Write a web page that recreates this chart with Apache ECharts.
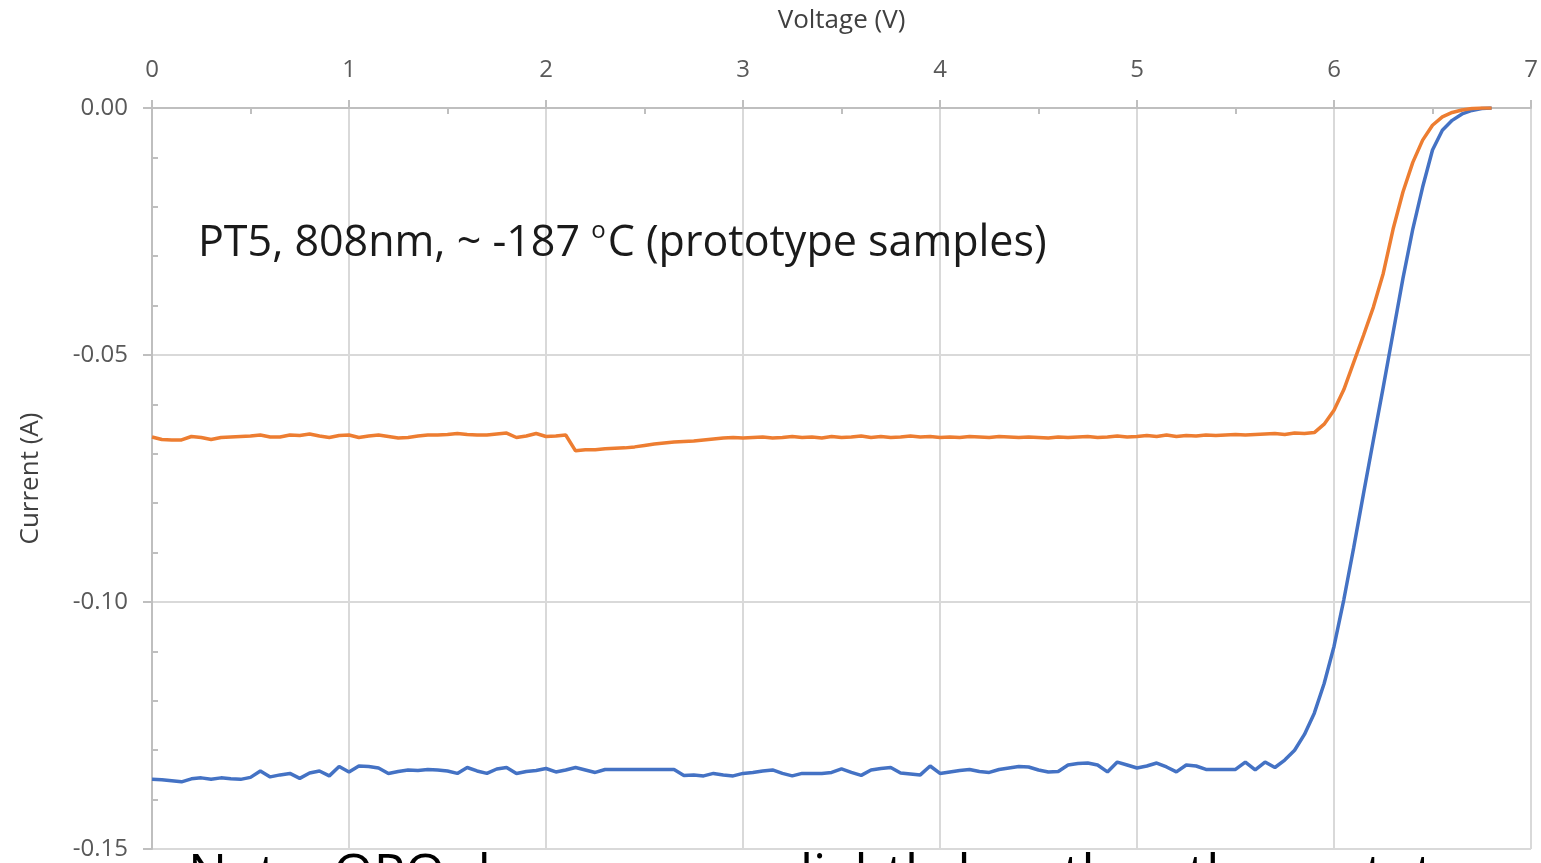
<!DOCTYPE html>
<html>
<head>
<meta charset="utf-8">
<script src="https://cdn.jsdelivr.net/npm/echarts@6/dist/echarts.min.js"></script>
<style>
    html, body { margin: 0; padding: 0; background: #fff; }
    #chart { width: 1541px; height: 863px; }
</style>
</head>
<body>
<div id="chart"></div>
<script>
// 电压 (V)
var voltage = [
    0.00, 0.05, 0.10, 0.15, 0.20, 0.25, 0.30, 0.35, 0.40, 0.45,
    0.50, 0.55, 0.60, 0.65, 0.70, 0.75, 0.80, 0.85, 0.90, 0.95,
    1.00, 1.05, 1.10, 1.15, 1.20, 1.25, 1.30, 1.35, 1.40, 1.45,
    1.50, 1.55, 1.60, 1.65, 1.70, 1.75, 1.80, 1.85, 1.90, 1.95,
    2.00, 2.05, 2.10, 2.15, 2.20, 2.25, 2.30, 2.35, 2.40, 2.45,
    2.50, 2.55, 2.60, 2.65, 2.70, 2.75, 2.80, 2.85, 2.90, 2.95,
    3.00, 3.05, 3.10, 3.15, 3.20, 3.25, 3.30, 3.35, 3.40, 3.45,
    3.50, 3.55, 3.60, 3.65, 3.70, 3.75, 3.80, 3.85, 3.90, 3.95,
    4.00, 4.05, 4.10, 4.15, 4.20, 4.25, 4.30, 4.35, 4.40, 4.45,
    4.50, 4.55, 4.60, 4.65, 4.70, 4.75, 4.80, 4.85, 4.90, 4.95,
    5.00, 5.05, 5.10, 5.15, 5.20, 5.25, 5.30, 5.35, 5.40, 5.45,
    5.50, 5.55, 5.60, 5.65, 5.70, 5.75, 5.80, 5.85, 5.90, 5.95,
    6.00, 6.05, 6.10, 6.15, 6.20, 6.25, 6.30, 6.35, 6.40, 6.45,
    6.50, 6.55, 6.60, 6.65, 6.70, 6.75, 6.80
];

// 蓝线 电流 (A)
var currentBlue = [
    -0.1359, -0.1360, -0.1362, -0.1364, -0.1358, -0.1356, -0.1359, -0.1356, -0.1358, -0.1359,
    -0.1355, -0.1342, -0.1354, -0.1350, -0.1347, -0.1357, -0.1346, -0.1342, -0.1352, -0.1333,
    -0.1344, -0.1332, -0.1333, -0.1336, -0.1347, -0.1343, -0.1340, -0.1341, -0.1339, -0.1340,
    -0.1342, -0.1347, -0.1335, -0.1342, -0.1347, -0.1338, -0.1335, -0.1347, -0.1343, -0.1341,
    -0.1337, -0.1344, -0.1340, -0.1335, -0.1340, -0.1345, -0.1339, -0.1339, -0.1339, -0.1339,
    -0.1339, -0.1339, -0.1339, -0.1339, -0.1351, -0.1350, -0.1352, -0.1347, -0.1350, -0.1352,
    -0.1347, -0.1345, -0.1342, -0.1340, -0.1347, -0.1352, -0.1347, -0.1347, -0.1347, -0.1345,
    -0.1338, -0.1345, -0.1351, -0.1340, -0.1337, -0.1335, -0.1346, -0.1348, -0.1350, -0.1332,
    -0.1347, -0.1344, -0.1341, -0.1339, -0.1343, -0.1345, -0.1339, -0.1336, -0.1333, -0.1334,
    -0.1340, -0.1344, -0.1343, -0.1330, -0.1327, -0.1326, -0.1330, -0.1344, -0.1324, -0.1330,
    -0.1336, -0.1332, -0.1326, -0.1334, -0.1344, -0.1330, -0.1332, -0.1339, -0.1339, -0.1339,
    -0.1339, -0.1324, -0.1340, -0.1324, -0.1335, -0.1320, -0.1300, -0.1268, -0.1225, -0.1165,
    -0.1090, -0.0995, -0.0890, -0.0780, -0.0672, -0.0565, -0.0455, -0.0345, -0.0245, -0.0160,
    -0.0085, -0.0045, -0.0025, -0.0012, -0.0005, -0.0001, 0
];

// 橙线 电流 (A)
var currentOrange = [
    -0.0666, -0.0671, -0.0672, -0.0672, -0.0665, -0.0667, -0.0671, -0.0667, -0.0666, -0.0665,
    -0.0664, -0.0662, -0.0666, -0.0666, -0.0662, -0.0663, -0.0660, -0.0664, -0.0667, -0.0663,
    -0.0662, -0.0667, -0.0664, -0.0662, -0.0665, -0.0668, -0.0667, -0.0664, -0.0662, -0.0662,
    -0.0661, -0.0659, -0.0661, -0.0662, -0.0662, -0.0660, -0.0658, -0.0667, -0.0664, -0.0659,
    -0.0665, -0.0664, -0.0662, -0.0694, -0.0692, -0.0692, -0.0690, -0.0689, -0.0688, -0.0686,
    -0.0683, -0.0680, -0.0678, -0.0676, -0.0675, -0.0674, -0.0672, -0.0670, -0.0668, -0.0667,
    -0.0668, -0.0667, -0.0666, -0.0668, -0.0667, -0.0665, -0.0667, -0.0666, -0.0668, -0.0665,
    -0.0667, -0.0666, -0.0664, -0.0667, -0.0665, -0.0667, -0.0666, -0.0664, -0.0666, -0.0665,
    -0.0667, -0.0666, -0.0667, -0.0665, -0.0666, -0.0667, -0.0665, -0.0666, -0.0667, -0.0666,
    -0.0667, -0.0668, -0.0666, -0.0667, -0.0666, -0.0665, -0.0667, -0.0666, -0.0664, -0.0666,
    -0.0665, -0.0663, -0.0665, -0.0662, -0.0665, -0.0663, -0.0664, -0.0662, -0.0663, -0.0662,
    -0.0661, -0.0662, -0.0661, -0.0660, -0.0659, -0.0661, -0.0658, -0.0659, -0.0657, -0.0640,
    -0.0612, -0.0570, -0.0515, -0.0460, -0.0403, -0.0335, -0.0245, -0.0170, -0.0110, -0.0065,
    -0.0035, -0.0018, -0.0009, -0.0004, -0.0001, 0, 0
];

var xTicks = [0, 1, 2, 3, 4, 5, 6, 7];
var yTicks = [0, -0.05, -0.10, -0.15];

var axisColor = "#bfbfbf";
var gridColor = "#d9d9d9";
var labelColor = "#595959";
var fontFamily = "'Open Sans', sans-serif";

function pairs(xs, ys) {
    return xs.map(function (x, i) {
        return [x, ys[i]];
    });
}

var myChart = echarts.init(document.getElementById("chart"), null, { renderer: "canvas" });

var option = {
    backgroundColor: "#fff",
    animation: false,
    grid: {
        left: 152,
        right: 10,
        top: 108,
        bottom: 14,
        containLabel: false,
        outerBoundsMode: "none"
    },
    xAxis: [
        {
            type: "value",
            position: "top",
            min: xTicks[0],
            max: xTicks[xTicks.length - 1],
            interval: 1,
            name: "Voltage (V)",
            nameLocation: "middle",
            nameGap: 74,
            nameTextStyle: { color: "#404040", fontSize: 26, fontFamily: fontFamily },
            axisLine: { show: true, lineStyle: { color: axisColor, width: 2 } },
            axisTick: { show: true, length: 8, lineStyle: { color: axisColor, width: 2 } },
            axisLabel: { color: labelColor, fontSize: 24, fontFamily: fontFamily, margin: 26 },
            splitLine: { show: true, lineStyle: { color: gridColor, width: 2 } }
        },
        {
            // 内侧小刻度
            type: "value",
            position: "top",
            min: xTicks[0],
            max: xTicks[xTicks.length - 1],
            interval: 1,
            axisLine: { show: false },
            axisTick: { show: false, inside: true },
            minorTick: { show: true, splitNumber: 2, length: 6, lineStyle: { color: axisColor, width: 2 } },
            axisLabel: { show: false },
            splitLine: { show: false }
        }
    ],
    yAxis: [
        {
            type: "value",
            min: yTicks[yTicks.length - 1],
            max: yTicks[0],
            interval: 0.05,
            name: "Current (A)",
            nameLocation: "middle",
            nameGap: 108,
            nameTextStyle: { color: "#404040", fontSize: 26, fontFamily: fontFamily },
            axisLine: { show: true, lineStyle: { color: axisColor, width: 2 } },
            axisTick: { show: true, length: 9, lineStyle: { color: axisColor, width: 2 } },
            axisLabel: {
                color: labelColor,
                fontSize: 24,
                fontFamily: fontFamily,
                margin: 24,
                formatter: function (v) {
                    return v.toFixed(2);
                }
            },
            splitLine: { show: true, lineStyle: { color: gridColor, width: 2 } }
        },
        {
            type: "value",
            position: "left",
            min: yTicks[yTicks.length - 1],
            max: yTicks[0],
            interval: 0.05,
            axisLine: { show: false },
            axisTick: { show: false, inside: true },
            minorTick: { show: true, splitNumber: 5, length: 6, lineStyle: { color: axisColor, width: 2 } },
            axisLabel: { show: false },
            splitLine: { show: false }
        }
    ],
    series: [
        {
            name: "blue",
            type: "line",
            data: pairs(voltage, currentBlue),
            showSymbol: false,
            smooth: false,
            lineStyle: { color: "#4472c4", width: 3.5 },
            z: 3
        },
        {
            name: "orange",
            type: "line",
            data: pairs(voltage, currentOrange),
            showSymbol: false,
            smooth: false,
            lineStyle: { color: "#ed7d31", width: 3.5 },
            z: 4
        }
    ],
    graphic: [
        {
            type: "text",
            left: 198,
            top: 215,
            z: 100,
            style: {
                text: "{a|PT5, 808nm, ~ -187 }{sup|o}{a|C (prototype samples)}",
                rich: {
                    a: { fontSize: 43, fontFamily: fontFamily, fill: "#1a1a1a", lineHeight: 50, verticalAlign: "bottom" },
                    sup: { fontSize: 24, fontFamily: fontFamily, fill: "#1a1a1a", lineHeight: 50, verticalAlign: "top", padding: [4, 2, 0, 0] }
                }
            }
        },
        {
            type: "text",
            left: 188,
            top: 850,
            z: 100,
            style: {
                text: "Note: OPO damage was slightly less than the prototype samples",
                fill: "#000",
                font: "52px " + fontFamily
            }
        }
    ]
};

myChart.setOption(option);
</script>
</body>
</html>
